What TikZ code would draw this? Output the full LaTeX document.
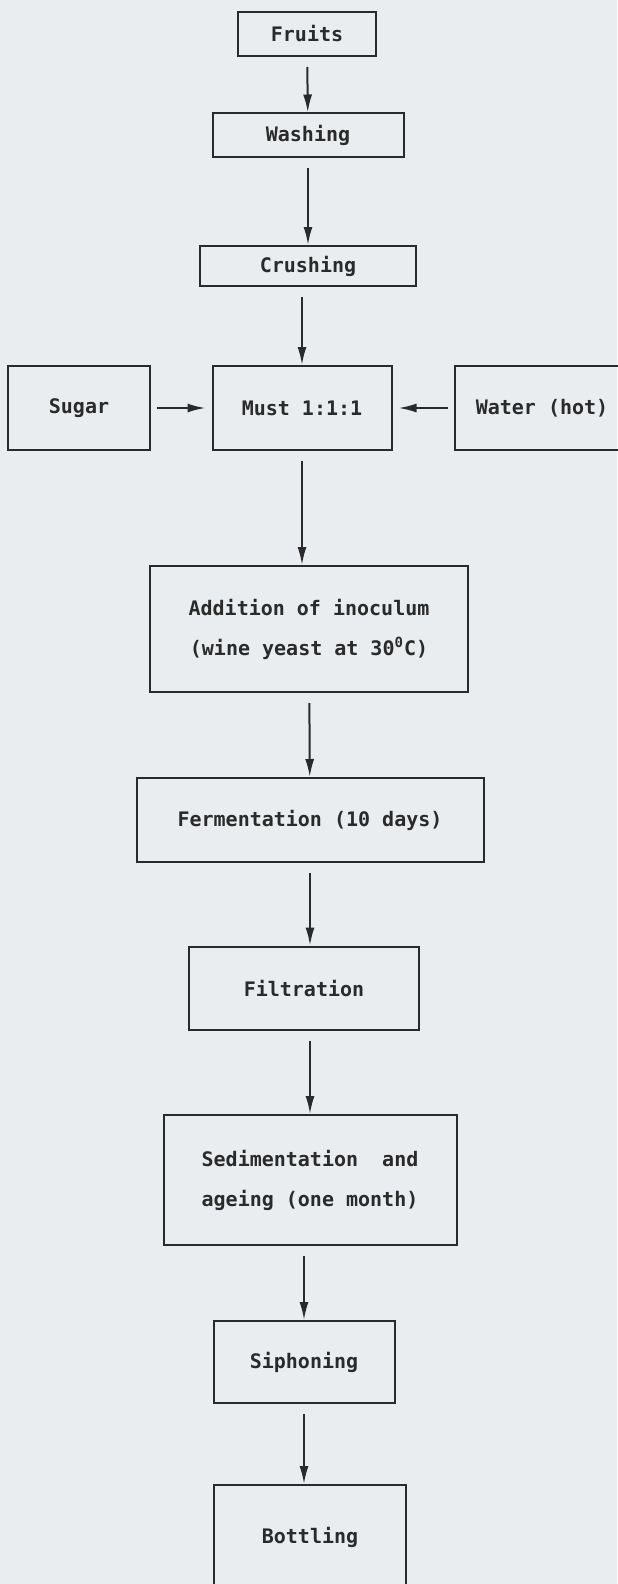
\documentclass[tikz,border=0pt]{standalone}
\usepackage{fontspec}
\setmonofont{DejaVu Sans Mono}
\usetikzlibrary{arrows.meta,positioning}
\definecolor{paper}{HTML}{E9EDEF}
\definecolor{ink}{HTML}{2A2A2A}

\begin{document}
\begin{tikzpicture}[x=0.5pt,y=-0.5pt,
    %
    box/.style={rectangle, draw=ink, line width=1pt, text=ink, inner sep=0pt,
    font=\ttfamily\bfseries\fontsize{10}{20}\selectfont, align=center},
    flow/.style={draw=ink, line width=1pt, -{Latex[length=9pt,width=4.5pt]},
    shorten <=5pt}]
    \fill[paper] (0,0) rectangle (617,1584);
    \useasboundingbox (0,0) rectangle (617,1584);
    \node[box, minimum width=69pt, minimum height=22pt] (fruits) at (307,34) {Fruits};
    \node[box, minimum width=95.5pt, minimum height=21.5pt] (washing) at (308,135) {Washing};
    \node[box, minimum width=108pt, minimum height=20pt] (crushing) at (308,266) {Crushing};
    \node[box, minimum width=89.5pt, minimum height=42pt] (must) at (302,408) {Must 1:1:1};
    \node[box, minimum width=71pt, minimum height=42pt] (sugar) at (79,408) {Sugar};
    \node[box, minimum width=87.5pt, minimum height=42pt] (water) at (542,408) {Water (hot)};
    \node[box, minimum width=159pt, minimum height=63pt] (inoculum) at (309,629)
        {Addition of inoculum\\(wine yeast at 30\textsuperscript{0}C)};
    \node[box, minimum width=173.5pt, minimum height=42pt] (ferment) at (310,820) {Fermentation (10 days)};
    \node[box, minimum width=115pt, minimum height=41.5pt] (filter) at (304,988) {Filtration};
    \node[box, minimum width=146.5pt, minimum height=65pt] (ageing) at (310,1180)
        {Sedimentation\ \ and\\ageing (one month)};
    \node[box, minimum width=90.5pt, minimum height=41pt] (siphon) at (304,1362) {Siphoning};
    \node[box, minimum width=96pt, minimum height=52pt] (bottle) at (310,1537) {Bottling};
    % main line
    \draw[flow] (fruits) -- (washing);
    \draw[flow] (washing) -- (crushing);
    \draw[flow] (crushing.south -| must.north) -- (must);
    \draw[flow] (must) -- (inoculum.north -| must.south);
    \draw[flow] (inoculum) -- (ferment);
    \draw[flow] (ferment) -- (filter.north -| ferment.south);
    \draw[flow] (filter.south -| ageing.north) -- (ageing);
    \draw[flow] (ageing.south -| siphon.north) -- (siphon);
    \draw[flow] (siphon) -- (bottle.north -| siphon.south);
    % side inputs
    \draw[flow, shorten <=3pt, shorten >=3pt] (sugar) -- (must);
    \draw[flow, shorten <=3pt, shorten >=3pt] (water) -- (must);
\end{tikzpicture}
\end{document}
